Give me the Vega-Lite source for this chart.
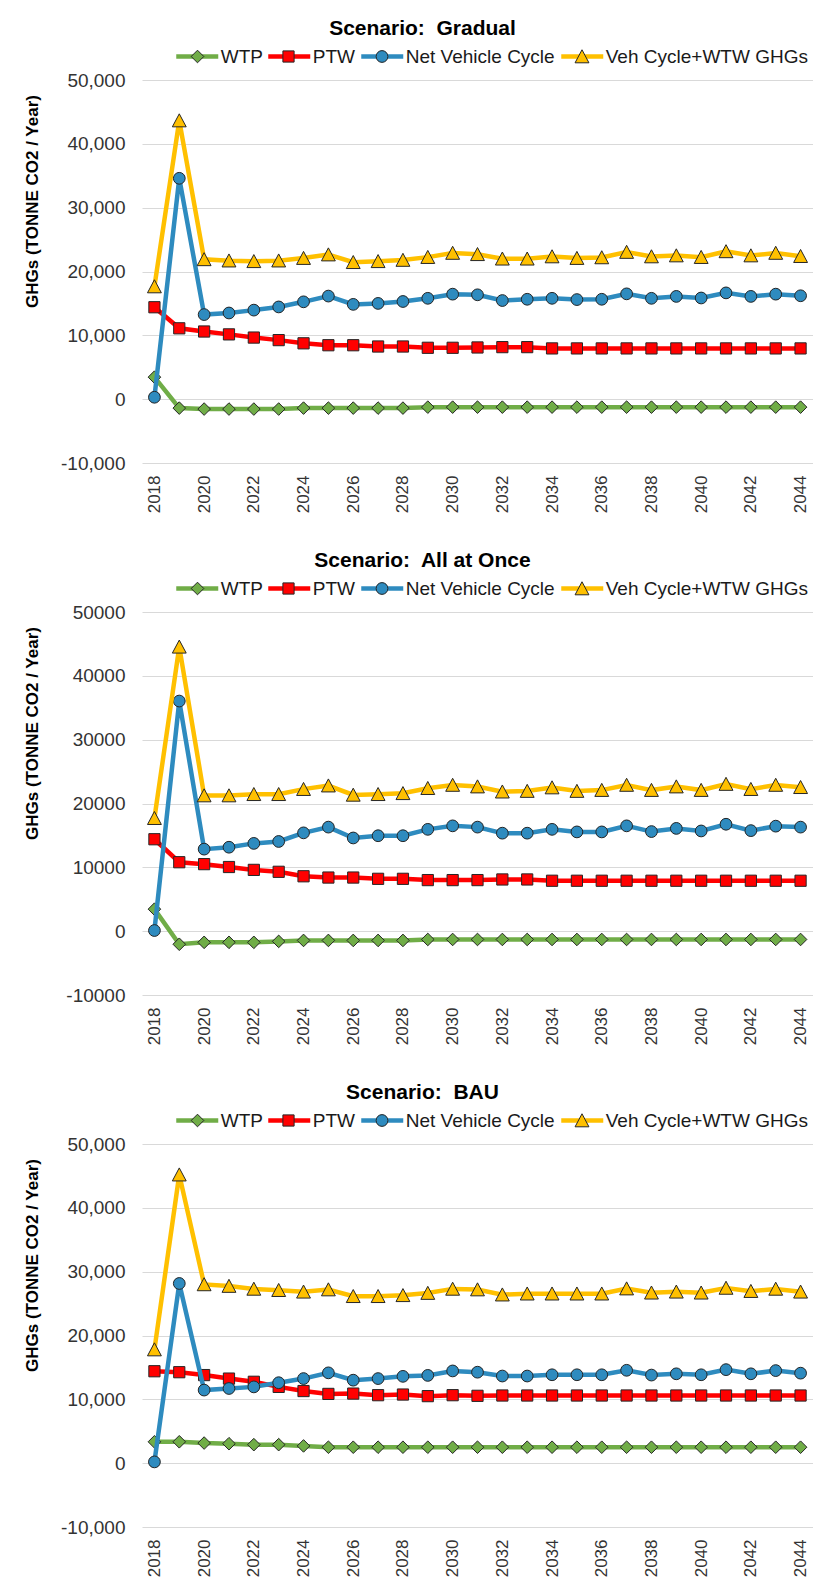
{
  "$schema": "https://vega.github.io/schema/vega-lite/v6.json",
  "background": "white",
  "padding": {"left": 23, "top": 18, "right": 0, "bottom": 0},
  "config": {
    "font": "Liberation Sans",
    "view": {"stroke": null},
    "axis": {"domain": false, "ticks": false, "tickSize": 0, "labelColor": "#333333", "labelFont": "Liberation Sans"},
    "line": {"strokeWidth": 4.5},
    "point": {"filled": true, "size": 1764, "stroke": "#262626", "strokeWidth": 1, "opacity": 1}
  },
  "spacing": 37,
  "resolve": {
    "scale": {"x": "independent", "y": "independent", "color": "independent", "fill": "independent", "shape": "independent"},
    "legend": {"color": "independent", "fill": "independent", "shape": "independent"}
  },
  "datasets": {
    "ghg": [
      {"scenario":"Gradual","year":2018,"series":"WTP","value":3450},
      {"scenario":"Gradual","year":2019,"series":"WTP","value":-1400},
      {"scenario":"Gradual","year":2020,"series":"WTP","value":-1550},
      {"scenario":"Gradual","year":2021,"series":"WTP","value":-1550},
      {"scenario":"Gradual","year":2022,"series":"WTP","value":-1550},
      {"scenario":"Gradual","year":2023,"series":"WTP","value":-1550},
      {"scenario":"Gradual","year":2024,"series":"WTP","value":-1400},
      {"scenario":"Gradual","year":2025,"series":"WTP","value":-1400},
      {"scenario":"Gradual","year":2026,"series":"WTP","value":-1400},
      {"scenario":"Gradual","year":2027,"series":"WTP","value":-1400},
      {"scenario":"Gradual","year":2028,"series":"WTP","value":-1400},
      {"scenario":"Gradual","year":2029,"series":"WTP","value":-1250},
      {"scenario":"Gradual","year":2030,"series":"WTP","value":-1250},
      {"scenario":"Gradual","year":2031,"series":"WTP","value":-1250},
      {"scenario":"Gradual","year":2032,"series":"WTP","value":-1250},
      {"scenario":"Gradual","year":2033,"series":"WTP","value":-1250},
      {"scenario":"Gradual","year":2034,"series":"WTP","value":-1250},
      {"scenario":"Gradual","year":2035,"series":"WTP","value":-1250},
      {"scenario":"Gradual","year":2036,"series":"WTP","value":-1250},
      {"scenario":"Gradual","year":2037,"series":"WTP","value":-1250},
      {"scenario":"Gradual","year":2038,"series":"WTP","value":-1250},
      {"scenario":"Gradual","year":2039,"series":"WTP","value":-1250},
      {"scenario":"Gradual","year":2040,"series":"WTP","value":-1250},
      {"scenario":"Gradual","year":2041,"series":"WTP","value":-1250},
      {"scenario":"Gradual","year":2042,"series":"WTP","value":-1250},
      {"scenario":"Gradual","year":2043,"series":"WTP","value":-1250},
      {"scenario":"Gradual","year":2044,"series":"WTP","value":-1250},
      {"scenario":"Gradual","year":2018,"series":"PTW","value":14400},
      {"scenario":"Gradual","year":2019,"series":"PTW","value":11100},
      {"scenario":"Gradual","year":2020,"series":"PTW","value":10600},
      {"scenario":"Gradual","year":2021,"series":"PTW","value":10150},
      {"scenario":"Gradual","year":2022,"series":"PTW","value":9650},
      {"scenario":"Gradual","year":2023,"series":"PTW","value":9250},
      {"scenario":"Gradual","year":2024,"series":"PTW","value":8750},
      {"scenario":"Gradual","year":2025,"series":"PTW","value":8450},
      {"scenario":"Gradual","year":2026,"series":"PTW","value":8450},
      {"scenario":"Gradual","year":2027,"series":"PTW","value":8250},
      {"scenario":"Gradual","year":2028,"series":"PTW","value":8250},
      {"scenario":"Gradual","year":2029,"series":"PTW","value":8050},
      {"scenario":"Gradual","year":2030,"series":"PTW","value":8050},
      {"scenario":"Gradual","year":2031,"series":"PTW","value":8100},
      {"scenario":"Gradual","year":2032,"series":"PTW","value":8150},
      {"scenario":"Gradual","year":2033,"series":"PTW","value":8150},
      {"scenario":"Gradual","year":2034,"series":"PTW","value":7950},
      {"scenario":"Gradual","year":2035,"series":"PTW","value":7950},
      {"scenario":"Gradual","year":2036,"series":"PTW","value":7950},
      {"scenario":"Gradual","year":2037,"series":"PTW","value":7950},
      {"scenario":"Gradual","year":2038,"series":"PTW","value":7950},
      {"scenario":"Gradual","year":2039,"series":"PTW","value":7950},
      {"scenario":"Gradual","year":2040,"series":"PTW","value":7950},
      {"scenario":"Gradual","year":2041,"series":"PTW","value":7950},
      {"scenario":"Gradual","year":2042,"series":"PTW","value":7950},
      {"scenario":"Gradual","year":2043,"series":"PTW","value":7950},
      {"scenario":"Gradual","year":2044,"series":"PTW","value":7950},
      {"scenario":"Gradual","year":2018,"series":"Net Vehicle Cycle","value":300},
      {"scenario":"Gradual","year":2019,"series":"Net Vehicle Cycle","value":34600},
      {"scenario":"Gradual","year":2020,"series":"Net Vehicle Cycle","value":13250},
      {"scenario":"Gradual","year":2021,"series":"Net Vehicle Cycle","value":13500},
      {"scenario":"Gradual","year":2022,"series":"Net Vehicle Cycle","value":13950},
      {"scenario":"Gradual","year":2023,"series":"Net Vehicle Cycle","value":14450},
      {"scenario":"Gradual","year":2024,"series":"Net Vehicle Cycle","value":15250},
      {"scenario":"Gradual","year":2025,"series":"Net Vehicle Cycle","value":16150},
      {"scenario":"Gradual","year":2026,"series":"Net Vehicle Cycle","value":14850},
      {"scenario":"Gradual","year":2027,"series":"Net Vehicle Cycle","value":15000},
      {"scenario":"Gradual","year":2028,"series":"Net Vehicle Cycle","value":15300},
      {"scenario":"Gradual","year":2029,"series":"Net Vehicle Cycle","value":15800},
      {"scenario":"Gradual","year":2030,"series":"Net Vehicle Cycle","value":16450},
      {"scenario":"Gradual","year":2031,"series":"Net Vehicle Cycle","value":16350},
      {"scenario":"Gradual","year":2032,"series":"Net Vehicle Cycle","value":15450},
      {"scenario":"Gradual","year":2033,"series":"Net Vehicle Cycle","value":15650},
      {"scenario":"Gradual","year":2034,"series":"Net Vehicle Cycle","value":15800},
      {"scenario":"Gradual","year":2035,"series":"Net Vehicle Cycle","value":15600},
      {"scenario":"Gradual","year":2036,"series":"Net Vehicle Cycle","value":15650},
      {"scenario":"Gradual","year":2037,"series":"Net Vehicle Cycle","value":16500},
      {"scenario":"Gradual","year":2038,"series":"Net Vehicle Cycle","value":15800},
      {"scenario":"Gradual","year":2039,"series":"Net Vehicle Cycle","value":16100},
      {"scenario":"Gradual","year":2040,"series":"Net Vehicle Cycle","value":15850},
      {"scenario":"Gradual","year":2041,"series":"Net Vehicle Cycle","value":16650},
      {"scenario":"Gradual","year":2042,"series":"Net Vehicle Cycle","value":16100},
      {"scenario":"Gradual","year":2043,"series":"Net Vehicle Cycle","value":16450},
      {"scenario":"Gradual","year":2044,"series":"Net Vehicle Cycle","value":16200},
      {"scenario":"Gradual","year":2018,"series":"Veh Cycle+WTW GHGs","value":17650},
      {"scenario":"Gradual","year":2019,"series":"Veh Cycle+WTW GHGs","value":43650},
      {"scenario":"Gradual","year":2020,"series":"Veh Cycle+WTW GHGs","value":21900},
      {"scenario":"Gradual","year":2021,"series":"Veh Cycle+WTW GHGs","value":21700},
      {"scenario":"Gradual","year":2022,"series":"Veh Cycle+WTW GHGs","value":21600},
      {"scenario":"Gradual","year":2023,"series":"Veh Cycle+WTW GHGs","value":21700},
      {"scenario":"Gradual","year":2024,"series":"Veh Cycle+WTW GHGs","value":22100},
      {"scenario":"Gradual","year":2025,"series":"Veh Cycle+WTW GHGs","value":22650},
      {"scenario":"Gradual","year":2026,"series":"Veh Cycle+WTW GHGs","value":21450},
      {"scenario":"Gradual","year":2027,"series":"Veh Cycle+WTW GHGs","value":21600},
      {"scenario":"Gradual","year":2028,"series":"Veh Cycle+WTW GHGs","value":21800},
      {"scenario":"Gradual","year":2029,"series":"Veh Cycle+WTW GHGs","value":22250},
      {"scenario":"Gradual","year":2030,"series":"Veh Cycle+WTW GHGs","value":22900},
      {"scenario":"Gradual","year":2031,"series":"Veh Cycle+WTW GHGs","value":22700},
      {"scenario":"Gradual","year":2032,"series":"Veh Cycle+WTW GHGs","value":22000},
      {"scenario":"Gradual","year":2033,"series":"Veh Cycle+WTW GHGs","value":22000},
      {"scenario":"Gradual","year":2034,"series":"Veh Cycle+WTW GHGs","value":22350},
      {"scenario":"Gradual","year":2035,"series":"Veh Cycle+WTW GHGs","value":22100},
      {"scenario":"Gradual","year":2036,"series":"Veh Cycle+WTW GHGs","value":22200},
      {"scenario":"Gradual","year":2037,"series":"Veh Cycle+WTW GHGs","value":23050},
      {"scenario":"Gradual","year":2038,"series":"Veh Cycle+WTW GHGs","value":22350},
      {"scenario":"Gradual","year":2039,"series":"Veh Cycle+WTW GHGs","value":22500},
      {"scenario":"Gradual","year":2040,"series":"Veh Cycle+WTW GHGs","value":22250},
      {"scenario":"Gradual","year":2041,"series":"Veh Cycle+WTW GHGs","value":23150},
      {"scenario":"Gradual","year":2042,"series":"Veh Cycle+WTW GHGs","value":22500},
      {"scenario":"Gradual","year":2043,"series":"Veh Cycle+WTW GHGs","value":22900},
      {"scenario":"Gradual","year":2044,"series":"Veh Cycle+WTW GHGs","value":22400},

      {"scenario":"All at Once","year":2018,"series":"WTP","value":3450},
      {"scenario":"All at Once","year":2019,"series":"WTP","value":-2050},
      {"scenario":"All at Once","year":2020,"series":"WTP","value":-1750},
      {"scenario":"All at Once","year":2021,"series":"WTP","value":-1750},
      {"scenario":"All at Once","year":2022,"series":"WTP","value":-1750},
      {"scenario":"All at Once","year":2023,"series":"WTP","value":-1600},
      {"scenario":"All at Once","year":2024,"series":"WTP","value":-1450},
      {"scenario":"All at Once","year":2025,"series":"WTP","value":-1450},
      {"scenario":"All at Once","year":2026,"series":"WTP","value":-1450},
      {"scenario":"All at Once","year":2027,"series":"WTP","value":-1450},
      {"scenario":"All at Once","year":2028,"series":"WTP","value":-1450},
      {"scenario":"All at Once","year":2029,"series":"WTP","value":-1300},
      {"scenario":"All at Once","year":2030,"series":"WTP","value":-1300},
      {"scenario":"All at Once","year":2031,"series":"WTP","value":-1300},
      {"scenario":"All at Once","year":2032,"series":"WTP","value":-1300},
      {"scenario":"All at Once","year":2033,"series":"WTP","value":-1300},
      {"scenario":"All at Once","year":2034,"series":"WTP","value":-1300},
      {"scenario":"All at Once","year":2035,"series":"WTP","value":-1300},
      {"scenario":"All at Once","year":2036,"series":"WTP","value":-1300},
      {"scenario":"All at Once","year":2037,"series":"WTP","value":-1300},
      {"scenario":"All at Once","year":2038,"series":"WTP","value":-1300},
      {"scenario":"All at Once","year":2039,"series":"WTP","value":-1300},
      {"scenario":"All at Once","year":2040,"series":"WTP","value":-1300},
      {"scenario":"All at Once","year":2041,"series":"WTP","value":-1300},
      {"scenario":"All at Once","year":2042,"series":"WTP","value":-1300},
      {"scenario":"All at Once","year":2043,"series":"WTP","value":-1300},
      {"scenario":"All at Once","year":2044,"series":"WTP","value":-1300},
      {"scenario":"All at Once","year":2018,"series":"PTW","value":14400},
      {"scenario":"All at Once","year":2019,"series":"PTW","value":10800},
      {"scenario":"All at Once","year":2020,"series":"PTW","value":10500},
      {"scenario":"All at Once","year":2021,"series":"PTW","value":10050},
      {"scenario":"All at Once","year":2022,"series":"PTW","value":9600},
      {"scenario":"All at Once","year":2023,"series":"PTW","value":9300},
      {"scenario":"All at Once","year":2024,"series":"PTW","value":8600},
      {"scenario":"All at Once","year":2025,"series":"PTW","value":8400},
      {"scenario":"All at Once","year":2026,"series":"PTW","value":8400},
      {"scenario":"All at Once","year":2027,"series":"PTW","value":8200},
      {"scenario":"All at Once","year":2028,"series":"PTW","value":8200},
      {"scenario":"All at Once","year":2029,"series":"PTW","value":8000},
      {"scenario":"All at Once","year":2030,"series":"PTW","value":8000},
      {"scenario":"All at Once","year":2031,"series":"PTW","value":8000},
      {"scenario":"All at Once","year":2032,"series":"PTW","value":8100},
      {"scenario":"All at Once","year":2033,"series":"PTW","value":8100},
      {"scenario":"All at Once","year":2034,"series":"PTW","value":7900},
      {"scenario":"All at Once","year":2035,"series":"PTW","value":7900},
      {"scenario":"All at Once","year":2036,"series":"PTW","value":7900},
      {"scenario":"All at Once","year":2037,"series":"PTW","value":7900},
      {"scenario":"All at Once","year":2038,"series":"PTW","value":7900},
      {"scenario":"All at Once","year":2039,"series":"PTW","value":7900},
      {"scenario":"All at Once","year":2040,"series":"PTW","value":7900},
      {"scenario":"All at Once","year":2041,"series":"PTW","value":7900},
      {"scenario":"All at Once","year":2042,"series":"PTW","value":7900},
      {"scenario":"All at Once","year":2043,"series":"PTW","value":7900},
      {"scenario":"All at Once","year":2044,"series":"PTW","value":7900},
      {"scenario":"All at Once","year":2018,"series":"Net Vehicle Cycle","value":100},
      {"scenario":"All at Once","year":2019,"series":"Net Vehicle Cycle","value":36050},
      {"scenario":"All at Once","year":2020,"series":"Net Vehicle Cycle","value":12850},
      {"scenario":"All at Once","year":2021,"series":"Net Vehicle Cycle","value":13150},
      {"scenario":"All at Once","year":2022,"series":"Net Vehicle Cycle","value":13750},
      {"scenario":"All at Once","year":2023,"series":"Net Vehicle Cycle","value":14050},
      {"scenario":"All at Once","year":2024,"series":"Net Vehicle Cycle","value":15400},
      {"scenario":"All at Once","year":2025,"series":"Net Vehicle Cycle","value":16300},
      {"scenario":"All at Once","year":2026,"series":"Net Vehicle Cycle","value":14600},
      {"scenario":"All at Once","year":2027,"series":"Net Vehicle Cycle","value":14950},
      {"scenario":"All at Once","year":2028,"series":"Net Vehicle Cycle","value":14950},
      {"scenario":"All at Once","year":2029,"series":"Net Vehicle Cycle","value":15950},
      {"scenario":"All at Once","year":2030,"series":"Net Vehicle Cycle","value":16500},
      {"scenario":"All at Once","year":2031,"series":"Net Vehicle Cycle","value":16300},
      {"scenario":"All at Once","year":2032,"series":"Net Vehicle Cycle","value":15350},
      {"scenario":"All at Once","year":2033,"series":"Net Vehicle Cycle","value":15350},
      {"scenario":"All at Once","year":2034,"series":"Net Vehicle Cycle","value":15950},
      {"scenario":"All at Once","year":2035,"series":"Net Vehicle Cycle","value":15550},
      {"scenario":"All at Once","year":2036,"series":"Net Vehicle Cycle","value":15550},
      {"scenario":"All at Once","year":2037,"series":"Net Vehicle Cycle","value":16500},
      {"scenario":"All at Once","year":2038,"series":"Net Vehicle Cycle","value":15600},
      {"scenario":"All at Once","year":2039,"series":"Net Vehicle Cycle","value":16100},
      {"scenario":"All at Once","year":2040,"series":"Net Vehicle Cycle","value":15700},
      {"scenario":"All at Once","year":2041,"series":"Net Vehicle Cycle","value":16750},
      {"scenario":"All at Once","year":2042,"series":"Net Vehicle Cycle","value":15750},
      {"scenario":"All at Once","year":2043,"series":"Net Vehicle Cycle","value":16450},
      {"scenario":"All at Once","year":2044,"series":"Net Vehicle Cycle","value":16300},
      {"scenario":"All at Once","year":2018,"series":"Veh Cycle+WTW GHGs","value":17700},
      {"scenario":"All at Once","year":2019,"series":"Veh Cycle+WTW GHGs","value":44550},
      {"scenario":"All at Once","year":2020,"series":"Veh Cycle+WTW GHGs","value":21250},
      {"scenario":"All at Once","year":2021,"series":"Veh Cycle+WTW GHGs","value":21250},
      {"scenario":"All at Once","year":2022,"series":"Veh Cycle+WTW GHGs","value":21450},
      {"scenario":"All at Once","year":2023,"series":"Veh Cycle+WTW GHGs","value":21450},
      {"scenario":"All at Once","year":2024,"series":"Veh Cycle+WTW GHGs","value":22250},
      {"scenario":"All at Once","year":2025,"series":"Veh Cycle+WTW GHGs","value":22800},
      {"scenario":"All at Once","year":2026,"series":"Veh Cycle+WTW GHGs","value":21350},
      {"scenario":"All at Once","year":2027,"series":"Veh Cycle+WTW GHGs","value":21450},
      {"scenario":"All at Once","year":2028,"series":"Veh Cycle+WTW GHGs","value":21600},
      {"scenario":"All at Once","year":2029,"series":"Veh Cycle+WTW GHGs","value":22400},
      {"scenario":"All at Once","year":2030,"series":"Veh Cycle+WTW GHGs","value":22900},
      {"scenario":"All at Once","year":2031,"series":"Veh Cycle+WTW GHGs","value":22650},
      {"scenario":"All at Once","year":2032,"series":"Veh Cycle+WTW GHGs","value":21850},
      {"scenario":"All at Once","year":2033,"series":"Veh Cycle+WTW GHGs","value":21950},
      {"scenario":"All at Once","year":2034,"series":"Veh Cycle+WTW GHGs","value":22500},
      {"scenario":"All at Once","year":2035,"series":"Veh Cycle+WTW GHGs","value":21950},
      {"scenario":"All at Once","year":2036,"series":"Veh Cycle+WTW GHGs","value":22100},
      {"scenario":"All at Once","year":2037,"series":"Veh Cycle+WTW GHGs","value":22900},
      {"scenario":"All at Once","year":2038,"series":"Veh Cycle+WTW GHGs","value":22100},
      {"scenario":"All at Once","year":2039,"series":"Veh Cycle+WTW GHGs","value":22650},
      {"scenario":"All at Once","year":2040,"series":"Veh Cycle+WTW GHGs","value":22100},
      {"scenario":"All at Once","year":2041,"series":"Veh Cycle+WTW GHGs","value":23050},
      {"scenario":"All at Once","year":2042,"series":"Veh Cycle+WTW GHGs","value":22250},
      {"scenario":"All at Once","year":2043,"series":"Veh Cycle+WTW GHGs","value":22900},
      {"scenario":"All at Once","year":2044,"series":"Veh Cycle+WTW GHGs","value":22550},

      {"scenario":"BAU","year":2018,"series":"WTP","value":3350},
      {"scenario":"BAU","year":2019,"series":"WTP","value":3350},
      {"scenario":"BAU","year":2020,"series":"WTP","value":3150},
      {"scenario":"BAU","year":2021,"series":"WTP","value":3050},
      {"scenario":"BAU","year":2022,"series":"WTP","value":2900},
      {"scenario":"BAU","year":2023,"series":"WTP","value":2900},
      {"scenario":"BAU","year":2024,"series":"WTP","value":2700},
      {"scenario":"BAU","year":2025,"series":"WTP","value":2500},
      {"scenario":"BAU","year":2026,"series":"WTP","value":2500},
      {"scenario":"BAU","year":2027,"series":"WTP","value":2500},
      {"scenario":"BAU","year":2028,"series":"WTP","value":2500},
      {"scenario":"BAU","year":2029,"series":"WTP","value":2500},
      {"scenario":"BAU","year":2030,"series":"WTP","value":2500},
      {"scenario":"BAU","year":2031,"series":"WTP","value":2500},
      {"scenario":"BAU","year":2032,"series":"WTP","value":2500},
      {"scenario":"BAU","year":2033,"series":"WTP","value":2500},
      {"scenario":"BAU","year":2034,"series":"WTP","value":2500},
      {"scenario":"BAU","year":2035,"series":"WTP","value":2500},
      {"scenario":"BAU","year":2036,"series":"WTP","value":2500},
      {"scenario":"BAU","year":2037,"series":"WTP","value":2500},
      {"scenario":"BAU","year":2038,"series":"WTP","value":2500},
      {"scenario":"BAU","year":2039,"series":"WTP","value":2500},
      {"scenario":"BAU","year":2040,"series":"WTP","value":2500},
      {"scenario":"BAU","year":2041,"series":"WTP","value":2500},
      {"scenario":"BAU","year":2042,"series":"WTP","value":2500},
      {"scenario":"BAU","year":2043,"series":"WTP","value":2500},
      {"scenario":"BAU","year":2044,"series":"WTP","value":2500},
      {"scenario":"BAU","year":2018,"series":"PTW","value":14400},
      {"scenario":"BAU","year":2019,"series":"PTW","value":14250},
      {"scenario":"BAU","year":2020,"series":"PTW","value":13800},
      {"scenario":"BAU","year":2021,"series":"PTW","value":13250},
      {"scenario":"BAU","year":2022,"series":"PTW","value":12750},
      {"scenario":"BAU","year":2023,"series":"PTW","value":11950},
      {"scenario":"BAU","year":2024,"series":"PTW","value":11300},
      {"scenario":"BAU","year":2025,"series":"PTW","value":10850},
      {"scenario":"BAU","year":2026,"series":"PTW","value":10900},
      {"scenario":"BAU","year":2027,"series":"PTW","value":10650},
      {"scenario":"BAU","year":2028,"series":"PTW","value":10750},
      {"scenario":"BAU","year":2029,"series":"PTW","value":10500},
      {"scenario":"BAU","year":2030,"series":"PTW","value":10650},
      {"scenario":"BAU","year":2031,"series":"PTW","value":10550},
      {"scenario":"BAU","year":2032,"series":"PTW","value":10600},
      {"scenario":"BAU","year":2033,"series":"PTW","value":10600},
      {"scenario":"BAU","year":2034,"series":"PTW","value":10600},
      {"scenario":"BAU","year":2035,"series":"PTW","value":10600},
      {"scenario":"BAU","year":2036,"series":"PTW","value":10600},
      {"scenario":"BAU","year":2037,"series":"PTW","value":10600},
      {"scenario":"BAU","year":2038,"series":"PTW","value":10600},
      {"scenario":"BAU","year":2039,"series":"PTW","value":10600},
      {"scenario":"BAU","year":2040,"series":"PTW","value":10600},
      {"scenario":"BAU","year":2041,"series":"PTW","value":10600},
      {"scenario":"BAU","year":2042,"series":"PTW","value":10600},
      {"scenario":"BAU","year":2043,"series":"PTW","value":10600},
      {"scenario":"BAU","year":2044,"series":"PTW","value":10600},
      {"scenario":"BAU","year":2018,"series":"Net Vehicle Cycle","value":200},
      {"scenario":"BAU","year":2019,"series":"Net Vehicle Cycle","value":28150},
      {"scenario":"BAU","year":2020,"series":"Net Vehicle Cycle","value":11450},
      {"scenario":"BAU","year":2021,"series":"Net Vehicle Cycle","value":11700},
      {"scenario":"BAU","year":2022,"series":"Net Vehicle Cycle","value":11950},
      {"scenario":"BAU","year":2023,"series":"Net Vehicle Cycle","value":12600},
      {"scenario":"BAU","year":2024,"series":"Net Vehicle Cycle","value":13250},
      {"scenario":"BAU","year":2025,"series":"Net Vehicle Cycle","value":14150},
      {"scenario":"BAU","year":2026,"series":"Net Vehicle Cycle","value":13000},
      {"scenario":"BAU","year":2027,"series":"Net Vehicle Cycle","value":13250},
      {"scenario":"BAU","year":2028,"series":"Net Vehicle Cycle","value":13600},
      {"scenario":"BAU","year":2029,"series":"Net Vehicle Cycle","value":13750},
      {"scenario":"BAU","year":2030,"series":"Net Vehicle Cycle","value":14450},
      {"scenario":"BAU","year":2031,"series":"Net Vehicle Cycle","value":14250},
      {"scenario":"BAU","year":2032,"series":"Net Vehicle Cycle","value":13650},
      {"scenario":"BAU","year":2033,"series":"Net Vehicle Cycle","value":13650},
      {"scenario":"BAU","year":2034,"series":"Net Vehicle Cycle","value":13850},
      {"scenario":"BAU","year":2035,"series":"Net Vehicle Cycle","value":13850},
      {"scenario":"BAU","year":2036,"series":"Net Vehicle Cycle","value":13850},
      {"scenario":"BAU","year":2037,"series":"Net Vehicle Cycle","value":14550},
      {"scenario":"BAU","year":2038,"series":"Net Vehicle Cycle","value":13800},
      {"scenario":"BAU","year":2039,"series":"Net Vehicle Cycle","value":14000},
      {"scenario":"BAU","year":2040,"series":"Net Vehicle Cycle","value":13850},
      {"scenario":"BAU","year":2041,"series":"Net Vehicle Cycle","value":14650},
      {"scenario":"BAU","year":2042,"series":"Net Vehicle Cycle","value":14000},
      {"scenario":"BAU","year":2043,"series":"Net Vehicle Cycle","value":14500},
      {"scenario":"BAU","year":2044,"series":"Net Vehicle Cycle","value":14100},
      {"scenario":"BAU","year":2018,"series":"Veh Cycle+WTW GHGs","value":17800},
      {"scenario":"BAU","year":2019,"series":"Veh Cycle+WTW GHGs","value":45200},
      {"scenario":"BAU","year":2020,"series":"Veh Cycle+WTW GHGs","value":28000},
      {"scenario":"BAU","year":2021,"series":"Veh Cycle+WTW GHGs","value":27750},
      {"scenario":"BAU","year":2022,"series":"Veh Cycle+WTW GHGs","value":27300},
      {"scenario":"BAU","year":2023,"series":"Veh Cycle+WTW GHGs","value":27100},
      {"scenario":"BAU","year":2024,"series":"Veh Cycle+WTW GHGs","value":26850},
      {"scenario":"BAU","year":2025,"series":"Veh Cycle+WTW GHGs","value":27200},
      {"scenario":"BAU","year":2026,"series":"Veh Cycle+WTW GHGs","value":26150},
      {"scenario":"BAU","year":2027,"series":"Veh Cycle+WTW GHGs","value":26150},
      {"scenario":"BAU","year":2028,"series":"Veh Cycle+WTW GHGs","value":26300},
      {"scenario":"BAU","year":2029,"series":"Veh Cycle+WTW GHGs","value":26650},
      {"scenario":"BAU","year":2030,"series":"Veh Cycle+WTW GHGs","value":27300},
      {"scenario":"BAU","year":2031,"series":"Veh Cycle+WTW GHGs","value":27200},
      {"scenario":"BAU","year":2032,"series":"Veh Cycle+WTW GHGs","value":26400},
      {"scenario":"BAU","year":2033,"series":"Veh Cycle+WTW GHGs","value":26550},
      {"scenario":"BAU","year":2034,"series":"Veh Cycle+WTW GHGs","value":26550},
      {"scenario":"BAU","year":2035,"series":"Veh Cycle+WTW GHGs","value":26550},
      {"scenario":"BAU","year":2036,"series":"Veh Cycle+WTW GHGs","value":26550},
      {"scenario":"BAU","year":2037,"series":"Veh Cycle+WTW GHGs","value":27350},
      {"scenario":"BAU","year":2038,"series":"Veh Cycle+WTW GHGs","value":26700},
      {"scenario":"BAU","year":2039,"series":"Veh Cycle+WTW GHGs","value":26850},
      {"scenario":"BAU","year":2040,"series":"Veh Cycle+WTW GHGs","value":26700},
      {"scenario":"BAU","year":2041,"series":"Veh Cycle+WTW GHGs","value":27450},
      {"scenario":"BAU","year":2042,"series":"Veh Cycle+WTW GHGs","value":26950},
      {"scenario":"BAU","year":2043,"series":"Veh Cycle+WTW GHGs","value":27300},
      {"scenario":"BAU","year":2044,"series":"Veh Cycle+WTW GHGs","value":26850}
    ]
  },
  "vconcat": [
    {
      "title": {"text": "Scenario:\u00a0 Gradual", "fontSize": 21, "fontWeight": "bold", "color": "#000000", "anchor": "middle", "frame": "group", "dx": -55, "offset": -6},
      "width": 671, "height": 383,
      "data": {"name": "ghg"},
      "transform": [{"filter": "datum.scenario === 'Gradual'"}],
      "encoding": {
        "x": {"field": "year", "type": "quantitative", "scale": {"domain": [2017.5, 2044.5], "nice": false, "zero": false},
              "axis": {"values": [2018,2020,2022,2024,2026,2028,2030,2032,2034,2036,2038,2040,2042,2044], "format": "d", "labelAngle": 270, "labelFontSize": 17, "labelPadding": 12, "title": null, "grid": false, "labelFlush": false, "labelOverlap": false}},
        "y": {"field": "value", "type": "quantitative", "scale": {"domain": [-10000, 50000], "nice": false, "zero": false},
              "axis": {"values": [-10000,0,10000,20000,30000,40000,50000], "labelExpr": "datum.value < 0 ? '-' + format(-datum.value, ',') : format(datum.value, ',')", "labelFontSize": 19, "labelPadding": 17, "labelOverlap": false, "grid": true, "gridColor": "#d9d9d9", "gridWidth": 1.2, "title": "GHGs (TONNE CO2 / Year)", "titleFontSize": 17, "titleFontWeight": "bold", "titleColor": "#000000", "titleAngle": 270, "titleX": -110, "titleY": 121, "titleAlign": "center", "titleBaseline": "middle"}}
      },
      "resolve": {"scale": {"color": "independent", "fill": "independent", "shape": "independent"}, "legend": {"color": "independent", "fill": "independent", "shape": "independent"}},
      "layer": [
        {"transform": [{"filter": "datum.series === 'WTP'"}], "mark": "line",
         "encoding": {"color": {"datum": "WTP", "type": "nominal", "scale": {"range": ["#70AD47"]}, "legend": {"orient": "none", "legendX": 31.75, "legendY": -47, "title": null, "symbolType": "stroke", "symbolSize": 1764, "symbolStrokeWidth": 4.5, "labelFontSize": 19, "labelOffset": 0, "labelColor": "#1a1a1a", "padding": 0, "labelLimit": 400}}}},
        {"transform": [{"filter": "datum.series === 'WTP'"}], "mark": "point",
         "encoding": {
           "fill": {"datum": "WTP", "type": "nominal", "scale": {"range": ["#70AD47"]}, "legend": {"orient": "none", "legendX": 34, "legendY": -45, "title": null, "symbolSize": 1764, "labelExpr": "''", "labelFontSize": 1, "labelOffset": 0, "padding": 0, "zindex": 1}},
           "shape": {"datum": "WTP", "type": "nominal", "scale": {"range": ["M0,-0.3L0.3,0L0,0.3L-0.3,0Z"]}, "legend": {"orient": "none", "legendX": 34, "legendY": -45, "title": null, "symbolSize": 1764, "labelExpr": "''", "labelFontSize": 1, "labelOffset": 0, "padding": 0, "zindex": 1}}}},
        {"transform": [{"filter": "datum.series === 'PTW'"}], "mark": "line",
         "encoding": {"color": {"datum": "PTW", "type": "nominal", "scale": {"range": ["#FF0000"]}, "legend": {"orient": "none", "legendX": 123.75, "legendY": -47, "title": null, "symbolType": "stroke", "symbolSize": 1764, "symbolStrokeWidth": 4.5, "labelFontSize": 19, "labelOffset": 0, "labelColor": "#1a1a1a", "padding": 0, "labelLimit": 400}}}},
        {"transform": [{"filter": "datum.series === 'PTW'"}], "mark": "point",
         "encoding": {
           "fill": {"datum": "PTW", "type": "nominal", "scale": {"range": ["#FF0000"]}, "legend": {"orient": "none", "legendX": 125, "legendY": -45, "title": null, "symbolSize": 1764, "labelExpr": "''", "labelFontSize": 1, "labelOffset": 0, "padding": 0, "zindex": 1}},
           "shape": {"datum": "PTW", "type": "nominal", "scale": {"range": ["M-0.267,-0.267L0.267,-0.267L0.267,0.267L-0.267,0.267Z"]}, "legend": {"orient": "none", "legendX": 125, "legendY": -45, "title": null, "symbolSize": 1764, "labelExpr": "''", "labelFontSize": 1, "labelOffset": 0, "padding": 0, "zindex": 1}}}},
        {"transform": [{"filter": "datum.series === 'Net Vehicle Cycle'"}], "mark": "line",
         "encoding": {"color": {"datum": "Net Vehicle Cycle", "type": "nominal", "scale": {"range": ["#2E8BBF"]}, "legend": {"orient": "none", "legendX": 216.75, "legendY": -47, "title": null, "symbolType": "stroke", "symbolSize": 1764, "symbolStrokeWidth": 4.5, "labelFontSize": 19, "labelOffset": 0, "labelColor": "#1a1a1a", "padding": 0, "labelLimit": 400}}}},
        {"transform": [{"filter": "datum.series === 'Net Vehicle Cycle'"}], "mark": "point",
         "encoding": {
           "fill": {"datum": "Net Vehicle Cycle", "type": "nominal", "scale": {"range": ["#2E8BBF"]}, "legend": {"orient": "none", "legendX": 218.5, "legendY": -45, "title": null, "symbolSize": 1764, "labelExpr": "''", "labelFontSize": 1, "labelOffset": 0, "padding": 0, "zindex": 1}},
           "shape": {"datum": "Net Vehicle Cycle", "type": "nominal", "scale": {"range": ["M-0.28,0A0.28,0.28,0,1,0,0.28,0A0.28,0.28,0,1,0,-0.28,0Z"]}, "legend": {"orient": "none", "legendX": 218.5, "legendY": -45, "title": null, "symbolSize": 1764, "labelExpr": "''", "labelFontSize": 1, "labelOffset": 0, "padding": 0, "zindex": 1}}}},
        {"transform": [{"filter": "datum.series === 'Veh Cycle+WTW GHGs'"}], "mark": "line",
         "encoding": {"color": {"datum": "Veh Cycle+WTW GHGs", "type": "nominal", "scale": {"range": ["#FFC000"]}, "legend": {"orient": "none", "legendX": 416.75, "legendY": -47, "title": null, "symbolType": "stroke", "symbolSize": 1764, "symbolStrokeWidth": 4.5, "labelFontSize": 19, "labelOffset": 0, "labelColor": "#1a1a1a", "padding": 0, "labelLimit": 400}}}},
        {"transform": [{"filter": "datum.series === 'Veh Cycle+WTW GHGs'"}], "mark": "point",
         "encoding": {
           "fill": {"datum": "Veh Cycle+WTW GHGs", "type": "nominal", "scale": {"range": ["#FFC000"]}, "legend": {"orient": "none", "legendX": 418.5, "legendY": -45, "title": null, "symbolSize": 1764, "labelExpr": "''", "labelFontSize": 1, "labelOffset": 0, "padding": 0, "zindex": 1}},
           "shape": {"datum": "Veh Cycle+WTW GHGs", "type": "nominal", "scale": {"range": ["M0,-0.32L0.33,0.3L-0.33,0.3Z"]}, "legend": {"orient": "none", "legendX": 418.5, "legendY": -45, "title": null, "symbolSize": 1764, "labelExpr": "''", "labelFontSize": 1, "labelOffset": 0, "padding": 0, "zindex": 1}}}}
      ]
    },
    {
      "title": {"text": "Scenario:\u00a0 All at Once", "fontSize": 21, "fontWeight": "bold", "color": "#000000", "anchor": "middle", "frame": "group", "dx": -55, "offset": -6},
      "width": 671, "height": 383,
      "data": {"name": "ghg"},
      "transform": [{"filter": "datum.scenario === 'All at Once'"}],
      "encoding": {
        "x": {"field": "year", "type": "quantitative", "scale": {"domain": [2017.5, 2044.5], "nice": false, "zero": false},
              "axis": {"values": [2018,2020,2022,2024,2026,2028,2030,2032,2034,2036,2038,2040,2042,2044], "format": "d", "labelAngle": 270, "labelFontSize": 17, "labelPadding": 12, "title": null, "grid": false, "labelFlush": false, "labelOverlap": false}},
        "y": {"field": "value", "type": "quantitative", "scale": {"domain": [-10000, 50000], "nice": false, "zero": false},
              "axis": {"values": [-10000,0,10000,20000,30000,40000,50000], "labelExpr": "datum.value < 0 ? '-' + format(-datum.value, 'd') : format(datum.value, 'd')", "labelFontSize": 19, "labelPadding": 17, "labelOverlap": false, "grid": true, "gridColor": "#d9d9d9", "gridWidth": 1.2, "title": "GHGs (TONNE CO2 / Year)", "titleFontSize": 17, "titleFontWeight": "bold", "titleColor": "#000000", "titleAngle": 270, "titleX": -110, "titleY": 121, "titleAlign": "center", "titleBaseline": "middle"}}
      },
      "resolve": {"scale": {"color": "independent", "fill": "independent", "shape": "independent"}, "legend": {"color": "independent", "fill": "independent", "shape": "independent"}},
      "layer": [
        {"transform": [{"filter": "datum.series === 'WTP'"}], "mark": "line",
         "encoding": {"color": {"datum": "WTP", "type": "nominal", "scale": {"range": ["#70AD47"]}, "legend": {"orient": "none", "legendX": 31.75, "legendY": -47, "title": null, "symbolType": "stroke", "symbolSize": 1764, "symbolStrokeWidth": 4.5, "labelFontSize": 19, "labelOffset": 0, "labelColor": "#1a1a1a", "padding": 0, "labelLimit": 400}}}},
        {"transform": [{"filter": "datum.series === 'WTP'"}], "mark": "point",
         "encoding": {
           "fill": {"datum": "WTP", "type": "nominal", "scale": {"range": ["#70AD47"]}, "legend": {"orient": "none", "legendX": 34, "legendY": -45, "title": null, "symbolSize": 1764, "labelExpr": "''", "labelFontSize": 1, "labelOffset": 0, "padding": 0, "zindex": 1}},
           "shape": {"datum": "WTP", "type": "nominal", "scale": {"range": ["M0,-0.3L0.3,0L0,0.3L-0.3,0Z"]}, "legend": {"orient": "none", "legendX": 34, "legendY": -45, "title": null, "symbolSize": 1764, "labelExpr": "''", "labelFontSize": 1, "labelOffset": 0, "padding": 0, "zindex": 1}}}},
        {"transform": [{"filter": "datum.series === 'PTW'"}], "mark": "line",
         "encoding": {"color": {"datum": "PTW", "type": "nominal", "scale": {"range": ["#FF0000"]}, "legend": {"orient": "none", "legendX": 123.75, "legendY": -47, "title": null, "symbolType": "stroke", "symbolSize": 1764, "symbolStrokeWidth": 4.5, "labelFontSize": 19, "labelOffset": 0, "labelColor": "#1a1a1a", "padding": 0, "labelLimit": 400}}}},
        {"transform": [{"filter": "datum.series === 'PTW'"}], "mark": "point",
         "encoding": {
           "fill": {"datum": "PTW", "type": "nominal", "scale": {"range": ["#FF0000"]}, "legend": {"orient": "none", "legendX": 125, "legendY": -45, "title": null, "symbolSize": 1764, "labelExpr": "''", "labelFontSize": 1, "labelOffset": 0, "padding": 0, "zindex": 1}},
           "shape": {"datum": "PTW", "type": "nominal", "scale": {"range": ["M-0.267,-0.267L0.267,-0.267L0.267,0.267L-0.267,0.267Z"]}, "legend": {"orient": "none", "legendX": 125, "legendY": -45, "title": null, "symbolSize": 1764, "labelExpr": "''", "labelFontSize": 1, "labelOffset": 0, "padding": 0, "zindex": 1}}}},
        {"transform": [{"filter": "datum.series === 'Net Vehicle Cycle'"}], "mark": "line",
         "encoding": {"color": {"datum": "Net Vehicle Cycle", "type": "nominal", "scale": {"range": ["#2E8BBF"]}, "legend": {"orient": "none", "legendX": 216.75, "legendY": -47, "title": null, "symbolType": "stroke", "symbolSize": 1764, "symbolStrokeWidth": 4.5, "labelFontSize": 19, "labelOffset": 0, "labelColor": "#1a1a1a", "padding": 0, "labelLimit": 400}}}},
        {"transform": [{"filter": "datum.series === 'Net Vehicle Cycle'"}], "mark": "point",
         "encoding": {
           "fill": {"datum": "Net Vehicle Cycle", "type": "nominal", "scale": {"range": ["#2E8BBF"]}, "legend": {"orient": "none", "legendX": 218.5, "legendY": -45, "title": null, "symbolSize": 1764, "labelExpr": "''", "labelFontSize": 1, "labelOffset": 0, "padding": 0, "zindex": 1}},
           "shape": {"datum": "Net Vehicle Cycle", "type": "nominal", "scale": {"range": ["M-0.28,0A0.28,0.28,0,1,0,0.28,0A0.28,0.28,0,1,0,-0.28,0Z"]}, "legend": {"orient": "none", "legendX": 218.5, "legendY": -45, "title": null, "symbolSize": 1764, "labelExpr": "''", "labelFontSize": 1, "labelOffset": 0, "padding": 0, "zindex": 1}}}},
        {"transform": [{"filter": "datum.series === 'Veh Cycle+WTW GHGs'"}], "mark": "line",
         "encoding": {"color": {"datum": "Veh Cycle+WTW GHGs", "type": "nominal", "scale": {"range": ["#FFC000"]}, "legend": {"orient": "none", "legendX": 416.75, "legendY": -47, "title": null, "symbolType": "stroke", "symbolSize": 1764, "symbolStrokeWidth": 4.5, "labelFontSize": 19, "labelOffset": 0, "labelColor": "#1a1a1a", "padding": 0, "labelLimit": 400}}}},
        {"transform": [{"filter": "datum.series === 'Veh Cycle+WTW GHGs'"}], "mark": "point",
         "encoding": {
           "fill": {"datum": "Veh Cycle+WTW GHGs", "type": "nominal", "scale": {"range": ["#FFC000"]}, "legend": {"orient": "none", "legendX": 418.5, "legendY": -45, "title": null, "symbolSize": 1764, "labelExpr": "''", "labelFontSize": 1, "labelOffset": 0, "padding": 0, "zindex": 1}},
           "shape": {"datum": "Veh Cycle+WTW GHGs", "type": "nominal", "scale": {"range": ["M0,-0.32L0.33,0.3L-0.33,0.3Z"]}, "legend": {"orient": "none", "legendX": 418.5, "legendY": -45, "title": null, "symbolSize": 1764, "labelExpr": "''", "labelFontSize": 1, "labelOffset": 0, "padding": 0, "zindex": 1}}}}
      ]
    },
    {
      "title": {"text": "Scenario:\u00a0 BAU", "fontSize": 21, "fontWeight": "bold", "color": "#000000", "anchor": "middle", "frame": "group", "dx": -55, "offset": -6},
      "width": 671, "height": 383,
      "data": {"name": "ghg"},
      "transform": [{"filter": "datum.scenario === 'BAU'"}],
      "encoding": {
        "x": {"field": "year", "type": "quantitative", "scale": {"domain": [2017.5, 2044.5], "nice": false, "zero": false},
              "axis": {"values": [2018,2020,2022,2024,2026,2028,2030,2032,2034,2036,2038,2040,2042,2044], "format": "d", "labelAngle": 270, "labelFontSize": 17, "labelPadding": 12, "title": null, "grid": false, "labelFlush": false, "labelOverlap": false}},
        "y": {"field": "value", "type": "quantitative", "scale": {"domain": [-10000, 50000], "nice": false, "zero": false},
              "axis": {"values": [-10000,0,10000,20000,30000,40000,50000], "labelExpr": "datum.value < 0 ? '-' + format(-datum.value, ',') : format(datum.value, ',')", "labelFontSize": 19, "labelPadding": 17, "labelOverlap": false, "grid": true, "gridColor": "#d9d9d9", "gridWidth": 1.2, "title": "GHGs (TONNE CO2 / Year)", "titleFontSize": 17, "titleFontWeight": "bold", "titleColor": "#000000", "titleAngle": 270, "titleX": -110, "titleY": 121, "titleAlign": "center", "titleBaseline": "middle"}}
      },
      "resolve": {"scale": {"color": "independent", "fill": "independent", "shape": "independent"}, "legend": {"color": "independent", "fill": "independent", "shape": "independent"}},
      "layer": [
        {"transform": [{"filter": "datum.series === 'WTP'"}], "mark": "line",
         "encoding": {"color": {"datum": "WTP", "type": "nominal", "scale": {"range": ["#70AD47"]}, "legend": {"orient": "none", "legendX": 31.75, "legendY": -47, "title": null, "symbolType": "stroke", "symbolSize": 1764, "symbolStrokeWidth": 4.5, "labelFontSize": 19, "labelOffset": 0, "labelColor": "#1a1a1a", "padding": 0, "labelLimit": 400}}}},
        {"transform": [{"filter": "datum.series === 'WTP'"}], "mark": "point",
         "encoding": {
           "fill": {"datum": "WTP", "type": "nominal", "scale": {"range": ["#70AD47"]}, "legend": {"orient": "none", "legendX": 34, "legendY": -45, "title": null, "symbolSize": 1764, "labelExpr": "''", "labelFontSize": 1, "labelOffset": 0, "padding": 0, "zindex": 1}},
           "shape": {"datum": "WTP", "type": "nominal", "scale": {"range": ["M0,-0.3L0.3,0L0,0.3L-0.3,0Z"]}, "legend": {"orient": "none", "legendX": 34, "legendY": -45, "title": null, "symbolSize": 1764, "labelExpr": "''", "labelFontSize": 1, "labelOffset": 0, "padding": 0, "zindex": 1}}}},
        {"transform": [{"filter": "datum.series === 'PTW'"}], "mark": "line",
         "encoding": {"color": {"datum": "PTW", "type": "nominal", "scale": {"range": ["#FF0000"]}, "legend": {"orient": "none", "legendX": 123.75, "legendY": -47, "title": null, "symbolType": "stroke", "symbolSize": 1764, "symbolStrokeWidth": 4.5, "labelFontSize": 19, "labelOffset": 0, "labelColor": "#1a1a1a", "padding": 0, "labelLimit": 400}}}},
        {"transform": [{"filter": "datum.series === 'PTW'"}], "mark": "point",
         "encoding": {
           "fill": {"datum": "PTW", "type": "nominal", "scale": {"range": ["#FF0000"]}, "legend": {"orient": "none", "legendX": 125, "legendY": -45, "title": null, "symbolSize": 1764, "labelExpr": "''", "labelFontSize": 1, "labelOffset": 0, "padding": 0, "zindex": 1}},
           "shape": {"datum": "PTW", "type": "nominal", "scale": {"range": ["M-0.267,-0.267L0.267,-0.267L0.267,0.267L-0.267,0.267Z"]}, "legend": {"orient": "none", "legendX": 125, "legendY": -45, "title": null, "symbolSize": 1764, "labelExpr": "''", "labelFontSize": 1, "labelOffset": 0, "padding": 0, "zindex": 1}}}},
        {"transform": [{"filter": "datum.series === 'Net Vehicle Cycle'"}], "mark": "line",
         "encoding": {"color": {"datum": "Net Vehicle Cycle", "type": "nominal", "scale": {"range": ["#2E8BBF"]}, "legend": {"orient": "none", "legendX": 216.75, "legendY": -47, "title": null, "symbolType": "stroke", "symbolSize": 1764, "symbolStrokeWidth": 4.5, "labelFontSize": 19, "labelOffset": 0, "labelColor": "#1a1a1a", "padding": 0, "labelLimit": 400}}}},
        {"transform": [{"filter": "datum.series === 'Net Vehicle Cycle'"}], "mark": "point",
         "encoding": {
           "fill": {"datum": "Net Vehicle Cycle", "type": "nominal", "scale": {"range": ["#2E8BBF"]}, "legend": {"orient": "none", "legendX": 218.5, "legendY": -45, "title": null, "symbolSize": 1764, "labelExpr": "''", "labelFontSize": 1, "labelOffset": 0, "padding": 0, "zindex": 1}},
           "shape": {"datum": "Net Vehicle Cycle", "type": "nominal", "scale": {"range": ["M-0.28,0A0.28,0.28,0,1,0,0.28,0A0.28,0.28,0,1,0,-0.28,0Z"]}, "legend": {"orient": "none", "legendX": 218.5, "legendY": -45, "title": null, "symbolSize": 1764, "labelExpr": "''", "labelFontSize": 1, "labelOffset": 0, "padding": 0, "zindex": 1}}}},
        {"transform": [{"filter": "datum.series === 'Veh Cycle+WTW GHGs'"}], "mark": "line",
         "encoding": {"color": {"datum": "Veh Cycle+WTW GHGs", "type": "nominal", "scale": {"range": ["#FFC000"]}, "legend": {"orient": "none", "legendX": 416.75, "legendY": -47, "title": null, "symbolType": "stroke", "symbolSize": 1764, "symbolStrokeWidth": 4.5, "labelFontSize": 19, "labelOffset": 0, "labelColor": "#1a1a1a", "padding": 0, "labelLimit": 400}}}},
        {"transform": [{"filter": "datum.series === 'Veh Cycle+WTW GHGs'"}], "mark": "point",
         "encoding": {
           "fill": {"datum": "Veh Cycle+WTW GHGs", "type": "nominal", "scale": {"range": ["#FFC000"]}, "legend": {"orient": "none", "legendX": 418.5, "legendY": -45, "title": null, "symbolSize": 1764, "labelExpr": "''", "labelFontSize": 1, "labelOffset": 0, "padding": 0, "zindex": 1}},
           "shape": {"datum": "Veh Cycle+WTW GHGs", "type": "nominal", "scale": {"range": ["M0,-0.32L0.33,0.3L-0.33,0.3Z"]}, "legend": {"orient": "none", "legendX": 418.5, "legendY": -45, "title": null, "symbolSize": 1764, "labelExpr": "''", "labelFontSize": 1, "labelOffset": 0, "padding": 0, "zindex": 1}}}}
      ]
    }
  ]
}
